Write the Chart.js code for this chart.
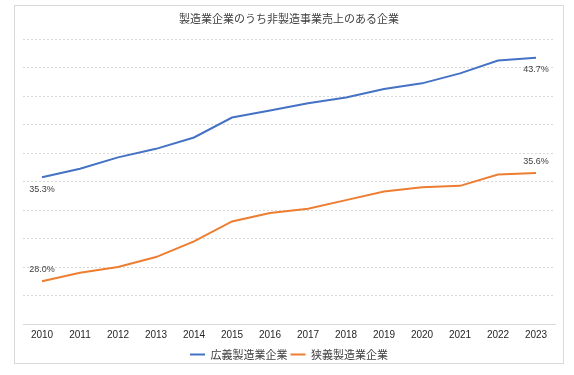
<!DOCTYPE html>
<html>
<head>
<meta charset="utf-8">
<script src="https://cdn.jsdelivr.net/npm/chart.js@4/dist/chart.umd.min.js"></script>
<style>
    html, body { margin: 0; padding: 0; background: #fff; }
    #frame { position: absolute; left: 14px; top: 5px; width: 548px; height: 357px; border: 1px solid #d9d9d9; }
    #chart { display: block; }
</style>
</head>
<body>
<div id="frame"><canvas id="chart" width="548" height="357"></canvas></div>
<script>
// ---- data ----
const years = ['2010', '2011', '2012', '2013', '2014', '2015', '2016', '2017', '2018', '2019', '2020', '2021', '2022', '2023'];
const broadMfg = [35.3, 35.9, 36.7, 37.3, 38.1, 39.5, 40.0, 40.5, 40.9, 41.5, 41.9, 42.6, 43.5, 43.7];
const narrowMfg = [28.0, 28.6, 29.0, 29.7, 30.8, 32.2, 32.8, 33.1, 33.7, 34.3, 34.6, 34.7, 35.5, 35.6];
const seriesNames = ['広義製造業企業', '狭義製造業企業'];
const yMin = 25;
const yMax = 45;
const yStep = 2;

const jpFont = "'Noto Sans CJK JP', 'Noto Sans', sans-serif";
const numFont = "'Liberation Sans', Arial, sans-serif";

// first / last value labels (above or below the point)
const endLabels = {
    id: 'endLabels',
    afterDatasetsDraw(chart) {
        const ctx = chart.ctx;
        ctx.save();
        ctx.font = '9px ' + numFont;
        ctx.fillStyle = '#404040';
        ctx.textAlign = 'center';
        ctx.textBaseline = 'middle';
        chart.data.datasets.forEach((ds, di) => {
            const meta = chart.getDatasetMeta(di);
            const last = ds.data.length - 1;
            [0, last].forEach(i => {
                const pt = meta.data[i];
                const dy = ds.labelSide === 'below' ? 12 : -12;
                ctx.fillText(ds.data[i].toFixed(1) + '%', pt.x, pt.y + dy);
            });
        });
        ctx.restore();
    }
};

new Chart(document.getElementById('chart'), {
    type: 'line',
    data: {
        labels: years,
        datasets: [{
            label: seriesNames[0],
            data: broadMfg,
            borderColor: '#4472c4',
            backgroundColor: '#4472c4',
            borderWidth: 2,
            pointRadius: 0,
            tension: 0,
            labelSide: 'below'
        }, {
            label: seriesNames[1],
            data: narrowMfg,
            borderColor: '#ed7d31',
            backgroundColor: '#ed7d31',
            borderWidth: 2,
            pointRadius: 0,
            tension: 0,
            labelSide: 'above'
        }]
    },
    plugins: [endLabels],
    options: {
        responsive: false,
        animation: false,
        layout: { padding: { left: 8, right: 8, top: 0, bottom: -7 } },
        plugins: {
            title: {
                display: true,
                text: '製造業企業のうち非製造事業売上のある企業',
                color: '#404040',
                font: { family: jpFont, size: 11, weight: 'normal' },
                padding: { top: 6, bottom: 14 }
            },
            legend: {
                position: 'bottom',
                labels: {
                    color: '#404040',
                    font: { family: jpFont, size: 11 },
                    boxWidth: 15,
                    boxHeight: 2,
                    padding: 3,
                    generateLabels: chart => Chart.defaults.plugins.legend.labels.generateLabels(chart)
                        .map(l => ({ ...l, lineWidth: 0 }))
                }
            },
            tooltip: { enabled: false }
        },
        scales: {
            x: {
                offset: true,
                grid: { display: false, drawTicks: false },
                border: { display: true, color: '#d9d9d9', width: 1 },
                ticks: { color: '#262626', font: { family: numFont, size: 10 }, padding: 5, maxRotation: 0, autoSkip: false }
            },
            y: {
                min: yMin,
                max: yMax,
                grid: { color: '#d9d9d9', drawTicks: false, lineWidth: 1 },
                border: { display: false, dash: [2, 2] },
                ticks: { display: false, stepSize: yStep }
            }
        }
    }
});
</script>
</body>
</html>
